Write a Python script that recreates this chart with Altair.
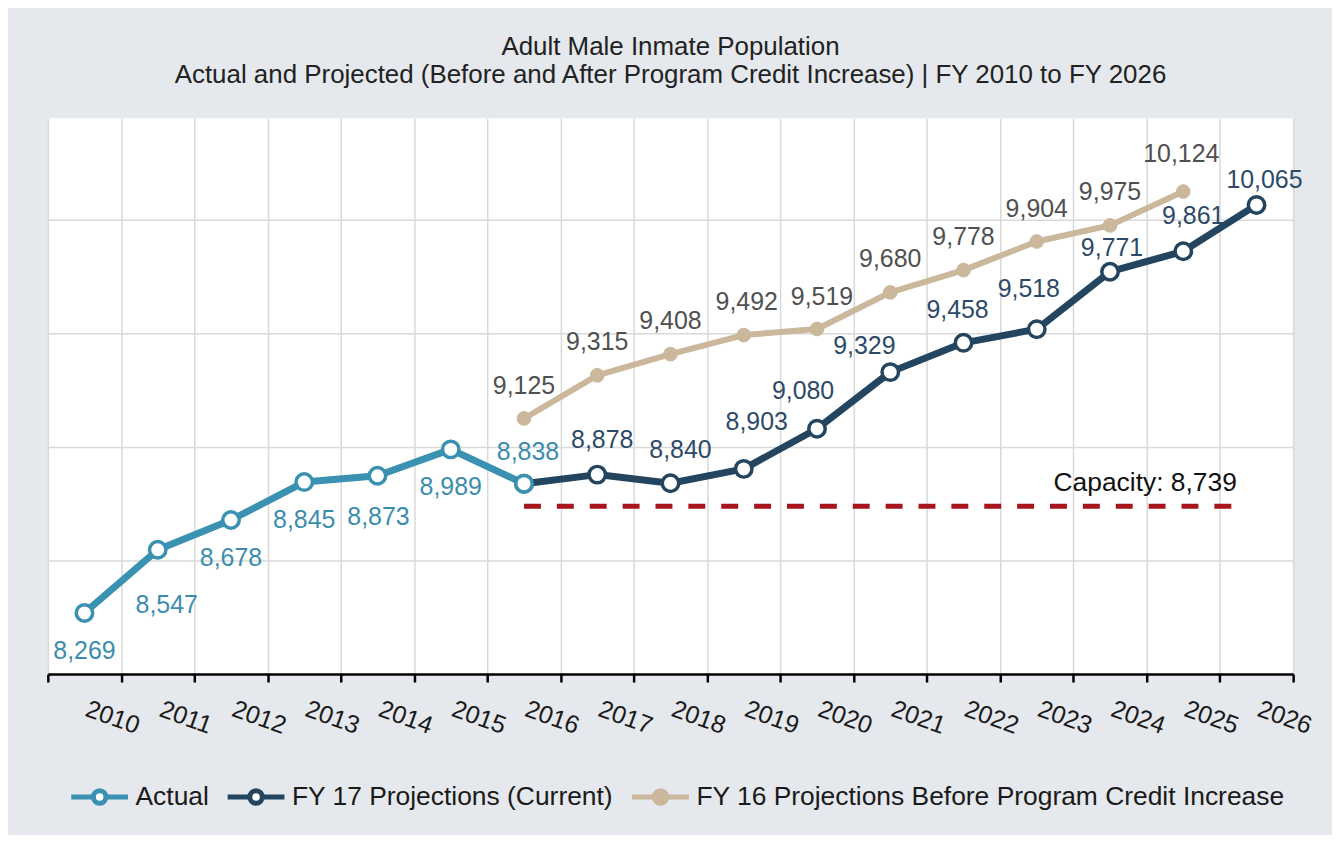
import altair as alt
import pandas as pd

# ---------------- data ----------------
series_names = ["Actual", "FY 17 Projections (Current)", "FY 16 Projections Before Program Credit Increase"]

years_actual = [2010, 2011, 2012, 2013, 2014, 2015, 2016]
actual = [8269, 8547, 8678, 8845, 8873, 8989, 8838]

years_fy17 = [2016, 2017, 2018, 2019, 2020, 2021, 2022, 2023, 2024, 2025, 2026]
fy17 = [8838, 8878, 8840, 8903, 9080, 9329, 9458, 9518, 9771, 9861, 10065]

years_fy16 = [2016, 2017, 2018, 2019, 2020, 2021, 2022, 2023, 2024, 2025]
fy16 = [9125, 9315, 9408, 9492, 9519, 9680, 9778, 9904, 9975, 10124]

capacity_value = 8739
capacity_start = 2016
capacity_end = 2025.8
capacity_label = "Capacity: 8,739"

year_ticks = [2009.5 + i for i in range(18)]
grid_values = [8500, 9000, 9500, 10000]

# ---------------- styling ----------------
FONT = "Liberation Sans"
line_colors = ["#3A91B1", "#24455F", "#CBB89C"]
fill_colors = ["white", "white", "#CBB89C"]
label_colors = ["#3C8DAD", "#2D4A68", "#505050"]

# label placement (pixel offsets of label centre from its point)
default_offset = {series_names[0]: (0, 38), series_names[1]: (0, -33), series_names[2]: (0, -33)}
special_offset = {
    (series_names[0], 2011): (9, 55),
    (series_names[0], 2014): (1, 41),
    (series_names[0], 2016): (4, -32),
    (series_names[1], 2017): (5, -35),
    (series_names[1], 2018): (10, -33),
    (series_names[1], 2019): (13, -47),
    (series_names[1], 2020): (-14, -38),
    (series_names[1], 2021): (-26, -26),
    (series_names[1], 2022): (-6, -33),
    (series_names[1], 2023): (-8, -40),
    (series_names[1], 2024): (2, -24),
    (series_names[1], 2025): (10, -35),
    (series_names[1], 2026): (8, -25),
    (series_names[2], 2019): (3, -33),
    (series_names[2], 2020): (5, -32),
    (series_names[2], 2025): (-2, -38),
}
hidden_labels = {(series_names[1], 2016)}


def long(name, yrs, vals):
    return pd.DataFrame({"series": name, "year": yrs, "value": vals})


df_actual = long(series_names[0], years_actual, actual)
df_fy17 = long(series_names[1], years_fy17, fy17)
df_fy16 = long(series_names[2], years_fy16, fy16)
df_rings = pd.concat([df_fy17, df_actual], ignore_index=True)
df_all = pd.concat([df_fy16, df_fy17, df_actual], ignore_index=True)

lab_rows = []
for _, r in df_all.iterrows():
    key = (r["series"], int(r["year"]))
    if key in hidden_labels:
        continue
    dx, dy = special_offset.get(key, default_offset[r["series"]])
    lab_rows.append({"series": r["series"], "year": r["year"], "value": r["value"], "dx": dx, "dy": dy})
df_labels = pd.DataFrame(lab_rows)

df_cap = pd.DataFrame({"x": [capacity_start], "x2": [capacity_end], "y": [capacity_value], "label": [capacity_label]})

# ---------------- scales / axes ----------------
x_scale = alt.Scale(domain=[2009.5, 2026.5], nice=False, zero=False)
y_scale = alt.Scale(domain=[8000, 10447], nice=False, zero=False)
stroke_scale = alt.Scale(domain=series_names, range=line_colors)
fill_scale = alt.Scale(domain=series_names, range=fill_colors)
label_scale = alt.Scale(domain=series_names, range=label_colors)

x_axis = alt.Axis(
    values=year_ticks,
    labelExpr="datum.value < 2010 ? '' : '' + floor(datum.value)",
    labelAngle=20, labelAlign="center", labelBaseline="middle",
    labelPadding=35, labelOffset=-9, labelFlush=False, labelOverlap=False,
    labelFont=FONT, labelFontSize=25, labelColor="#1a1a1a",
    domainColor="black", domainWidth=2.5,
    tickColor="black", tickWidth=2.5, tickSize=8,
    grid=True, gridColor="#D9D9D9", gridWidth=1.5,
    title=None,
)
y_axis = alt.Axis(values=grid_values, labels=False, ticks=False, domain=False,
                  grid=True, gridColor="#D9D9D9", gridWidth=1.5, title=None)

Xn = alt.X("year:Q", scale=x_scale)
Yn = alt.Y("value:Q", scale=y_scale)

legend_path = ("M-1,0L-0.22,0M0.22,0L1,0"
               "M0.22,0A0.22,0.22,0,1,1,-0.22,0A0.22,0.22,0,1,1,0.22,0Z")
legend = alt.Legend(
    orient="none", legendX=21, legendY=650, direction="horizontal", title=None,
    symbolType=legend_path, symbolSize=3249, symbolStrokeWidth=5, symbolOpacity=1,
    labelFont=FONT, labelFontSize=26.5, labelColor="#1a1a1a", labelLimit=0,
    labelOffset=5, columnPadding=8, padding=0,
)

# ---------------- layers ----------------
cap_rule = alt.Chart(df_cap).mark_rule(color="#A8141B", strokeWidth=5, strokeDash=[17, 16]).encode(
    x=alt.X("x:Q", scale=x_scale, axis=x_axis), x2="x2:Q",
    y=alt.Y("y:Q", scale=y_scale, axis=y_axis),
)
cap_text = alt.Chart(df_cap).mark_text(
    font=FONT, fontSize=26.5, color="#111111", align="right", baseline="middle", dx=-5, dy=-23
).encode(x=alt.X("x2:Q", scale=x_scale), y=alt.Y("y:Q", scale=y_scale), text="label:N")


def line_layer(df, width):
    return alt.Chart(df).mark_line(strokeWidth=width, strokeJoin="round", strokeCap="round").encode(
        x=Xn, y=Yn, stroke=alt.Stroke("series:N", scale=stroke_scale, legend=legend)
    )


lines = [line_layer(df_fy16, 6), line_layer(df_fy17, 7), line_layer(df_actual, 7)]


def point_layer(df, size, sw):
    return alt.Chart(df).mark_point(
        filled=True, shape="circle", size=size, strokeWidth=sw, opacity=1, fillOpacity=1
    ).encode(
        x=Xn, y=Yn,
        stroke=alt.Stroke("series:N", scale=stroke_scale, legend=legend),
        fill=alt.Fill("series:N", scale=fill_scale, legend=legend),
    )


beige_points = point_layer(df_fy16, 190, 1)
ring_points = point_layer(df_rings, 272, 3.5)

# data labels: one text layer per pixel offset
label_layers = []
for (dx, dy), grp in df_labels.groupby(["dx", "dy"]):
    label_layers.append(
        alt.Chart(grp).mark_text(
            font=FONT, fontSize=25, align="center", baseline="middle", dx=int(dx), dy=int(dy)
        ).encode(
            x=Xn, y=Yn,
            text=alt.Text("value:Q", format=","),
            color=alt.Color("series:N", scale=label_scale, legend=None),
        )
    )

chart = alt.layer(cap_rule, *lines, beige_points, ring_points, *label_layers, cap_text).properties(
    width=1250, height=558,
    padding={"left": 40, "top": 109, "right": 39, "bottom": 160},
    autosize=alt.AutoSizeParams(type="none"),
    background="#E5E8EC",
    title=alt.TitleParams(
        text="Adult Male Inmate Population",
        subtitle="Actual and Projected (Before and After Program Credit Increase)  |  FY 2010 to FY 2026",
        font=FONT, subtitleFont=FONT, fontSize=26, subtitleFontSize=26,
        fontWeight="normal", color="#222222", subtitleColor="#222222",
        anchor="middle", offset=30, subtitlePadding=2,
    ),
).configure_view(fill="white", stroke=None)

chart.save("out.html", embed_options={"renderer": "svg", "actions": False})
